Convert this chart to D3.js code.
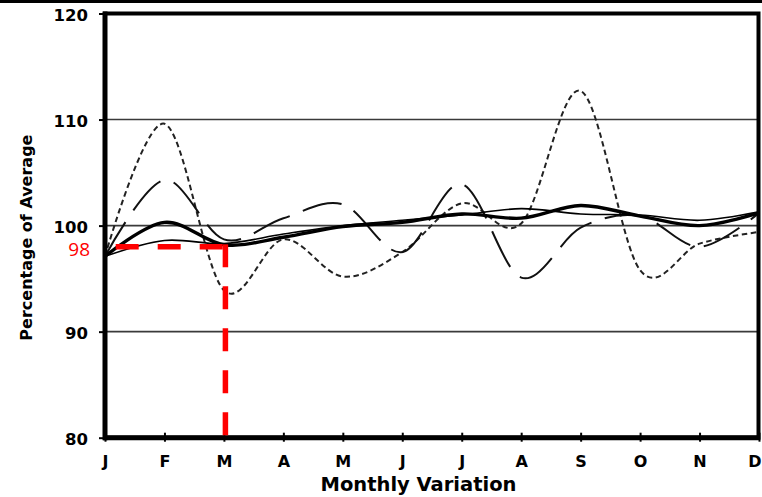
<!DOCTYPE html>
<html>
<head>
<meta charset="utf-8">
<script src="https://cdn.jsdelivr.net/npm/d3@7"></script>
<style>
  html, body { margin: 0; padding: 0; background: #fff; }
  svg { display: block; }
</style>
</head>
<body>
<div id="chart"></div>
<script>
// ---- data ----
const months = ["J","F","M","A","M","J","J","A","S","O","N","D"];
const yTicks = [80, 90, 100, 110, 120];
const gridValues = [90, 100, 110];
const thickSolid = [97.1, 100.3, 98.2, 98.9, 99.9, 100.3, 101.1, 100.7, 101.9, 100.9, 100.0, 101.2];
const thinSolid  = [97.1, 98.6, 98.3, 99.2, 100.0, 100.5, 101.0, 101.6, 101.1, 101.0, 100.5, 101.3];
const longDash   = [97.1, 104.3, 98.7, 100.7, 102.0, 97.5, 103.9, 95.1, 99.8, 100.9, 98.0, 101.2];
const shortDash  = [97.1, 109.6, 93.9, 98.7, 95.2, 97.5, 102.1, 100.2, 112.7, 95.8, 98.3, 99.4];
const annotValue = 98;
const annotMonth = 2;      // March
const annotStart = 0.18;   // where the horizontal guide begins (in months)
const yTitle = "Percentage of Average";
const xTitle = "Monthly Variation";

// ---- layout ----
const W = 762, H = 497;
const svg = d3.select("#chart").append("svg").attr("width", W).attr("height", H);

const x = d3.scaleLinear().domain([0, 11]).range([105, 759]);
const y = d3.scaleLinear().domain([80, 120]).range([437.7, 13.5]);

const font = "'DejaVu Sans', Verdana, sans-serif";

// top page rule
svg.append("line").attr("x1", 0).attr("x2", W).attr("y1", 1.5).attr("y2", 1.5)
  .attr("stroke", "#000").attr("stroke-width", 3);

// gridlines
svg.append("g").selectAll("line").data(gridValues).join("line")
  .attr("x1", x(0)).attr("x2", x(11))
  .attr("y1", d => y(d)).attr("y2", d => y(d))
  .attr("stroke", "#3a3a3a").attr("stroke-width", 1.6);

// series
const line = d3.line()
  .x((d, i) => x(i)).y(d => y(d))
  .curve(d3.curveCardinal.tension(0));

const series = [
  { data: shortDash, width: 2, dash: "5.5,3.5", color: "#222" },
  { data: longDash,  width: 2, dash: "40,14",  color: "#111" },
  { data: thinSolid, width: 1.6, dash: null,   color: "#000" },
  { data: thickSolid,width: 3.4, dash: null,   color: "#000" }
];
svg.append("g").selectAll("path").data(series).join("path")
  .attr("d", d => line(d.data))
  .attr("fill", "none")
  .attr("stroke", d => d.color)
  .attr("stroke-width", d => d.width)
  .attr("stroke-dasharray", d => d.dash);

// Y axis
const yAxis = svg.append("g").attr("transform", `translate(${x(0)},0)`)
  .call(d3.axisLeft(y).tickValues(yTicks).tickSizeInner(6).tickSizeOuter(0).tickPadding(11));
yAxis.select(".domain").remove();
yAxis.selectAll(".tick line").attr("stroke", "#000").attr("stroke-width", 2);
yAxis.selectAll(".tick text")
  .attr("font-family", font).attr("font-weight", "bold").attr("font-size", 16.5)
  .attr("fill", "#000").attr("dy", "0.4em");

// X axis
const xAxis = svg.append("g").attr("transform", `translate(0,${y(80)})`)
  .call(d3.axisBottom(x).tickValues(d3.range(12)).tickFormat(i => months[i])
    .tickSizeInner(4).tickSizeOuter(0).tickPadding(16));
xAxis.select(".domain").remove();
xAxis.selectAll(".tick line").attr("y1", -5).attr("stroke", "#000").attr("stroke-width", 2);
xAxis.selectAll(".tick text")
  .attr("font-family", font).attr("font-weight", "bold").attr("font-size", 16)
  .attr("fill", "#000").attr("dy", "0.58em");
// keep the last label (D) inside the page edge
xAxis.selectAll(".tick text").filter((d, i) => i === months.length - 1)
  .attr("text-anchor", "end").attr("x", W - 1 - x(11));

// frame
svg.append("rect")
  .attr("x", x(0)).attr("y", y(120))
  .attr("width", x(11) - x(0) - 0.5).attr("height", y(80) - y(120))
  .attr("fill", "none").attr("stroke", "#000").attr("stroke-width", 4);
svg.append("line").attr("x1", x(0)).attr("x2", x(0)).attr("y1", y(120) - 2).attr("y2", y(80) + 2.5)
  .attr("stroke", "#000").attr("stroke-width", 5);
svg.append("line").attr("x1", x(0) - 2).attr("x2", x(11)).attr("y1", y(80)).attr("y2", y(80))
  .attr("stroke", "#000").attr("stroke-width", 5);

// axis titles
svg.append("text")
  .attr("transform", `translate(31.5,${(y(120) + y(80)) / 2 + 12}) rotate(-90)`)
  .attr("text-anchor", "middle")
  .attr("font-family", font).attr("font-weight", "bold").attr("font-size", 16)
  .text(yTitle);
svg.append("text")
  .attr("x", 418.5).attr("y", 490.5)
  .attr("text-anchor", "middle")
  .attr("font-family", font).attr("font-weight", "bold").attr("font-size", 19.5)
  .text(xTitle);

// red annotation
const red = "#ff0000";
svg.append("line")
  .attr("x1", x(annotStart)).attr("x2", x(annotMonth) + 4)
  .attr("y1", y(annotValue)).attr("y2", y(annotValue))
  .attr("stroke", red).attr("stroke-width", 5.5).attr("stroke-dasharray", "23,19");
svg.append("line")
  .attr("x1", x(annotMonth) + 1.5).attr("x2", x(annotMonth) + 1.5)
  .attr("y1", y(annotValue) - 2.5).attr("y2", y(80) - 1)
  .attr("stroke", red).attr("stroke-width", 5.5).attr("stroke-dasharray", "23,19");
svg.append("text")
  .attr("x", 90).attr("y", y(annotValue) + 9.5)
  .attr("text-anchor", "end")
  .attr("font-family", "'Open Sans', sans-serif").attr("font-size", 19)
  .attr("fill", red)
  .text(annotValue);
</script>
</body>
</html>
